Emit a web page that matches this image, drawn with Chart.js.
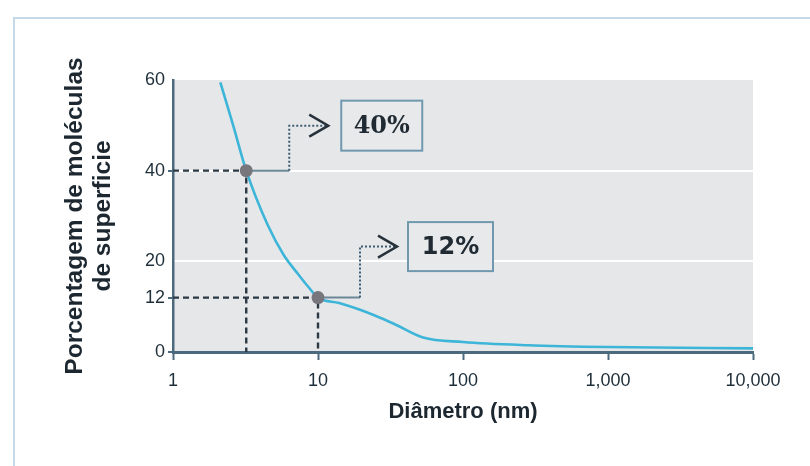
<!DOCTYPE html>
<html>
<head>
<meta charset="utf-8">
<script src="https://cdn.jsdelivr.net/npm/chart.js@4.4.1/dist/chart.umd.min.js"></script>
<style>
  body { margin: 0; background: #fff; }
  #frame { position: absolute; left: 13px; top: 17px; width: 810px; height: 466px;
           border-left: 2px solid #c4d9e9; border-top: 2px solid #c4d9e9; }
  #chart { position: absolute; left: 0; top: 0; }
</style>
</head>
<body>
<div id="frame"></div>
<canvas id="chart" width="810" height="466"></canvas>
<script>
// curve
const diameters = [2.12, 2.6, 3.2, 4.5, 5.8, 7.2, 8.5, 10, 14, 19.5, 33, 53, 100, 280, 1000, 10000];
const surfacePct = [59.5, 50, 40, 28, 21.4, 17.4, 14.5, 12, 10.8, 9.3, 6.3, 3.2, 2.2, 1.5, 1.1, 0.8];

const xTicks = [1, 10, 100, 1000, 10000];
const xTickLabels = ['1', '10', '100', '1,000', '10,000'];
const yTicks = [0, 12, 20, 40, 60];

// marked points
const markX = [3.2, 10];
const markY = [40, 12];
const markLabels = ['40%', '12%'];

const axisColor = '#4c6a7e';
const textColor = '#1f2f3a';
const plotBg = '#e6e7e9';

// callout shapes, pixel offsets from the marked point
const callouts = [
  { elbowDx: 43, riseDy: -45, tipDx: 82, boxDx: 95, boxW: 81, boxH: 50, font: 'bold 24px "DejaVu Serif"' },
  { elbowDx: 42, riseDy: -51, tipDx: 79, boxDx: 90, boxW: 85, boxH: 49, font: 'bold 24px "DejaVu Sans"' }
];

const plotBackground = {
  id: 'plotBackground',
  beforeDraw(chart) {
    const { ctx, chartArea: a } = chart;
    ctx.save();
    ctx.fillStyle = plotBg;
    ctx.fillRect(a.left, a.top, a.right - a.left, a.bottom - a.top);
    ctx.restore();
  }
};

const calloutPlugin = {
  id: 'callouts',
  beforeDatasetsDraw(chart) {
    const { ctx, scales } = chart;
    ctx.save();
    markLabels.forEach((label, i) => {
      const c = callouts[i];
      const px = scales.x.getPixelForValue(markX[i]);
      const py = scales.y.getPixelForValue(markY[i]);
      const ex = px + c.elbowDx;
      const ty = py + c.riseDy;

      ctx.setLineDash([]);
      ctx.strokeStyle = '#6a8798';
      ctx.lineWidth = 2;
      ctx.beginPath();
      ctx.moveTo(px, py);
      ctx.lineTo(ex, py);
      ctx.stroke();

      ctx.setLineDash([2, 2]);
      ctx.strokeStyle = '#3d5c72';
      ctx.beginPath();
      ctx.moveTo(ex, py);
      ctx.lineTo(ex, ty);
      ctx.lineTo(px + c.tipDx - 2, ty);
      ctx.stroke();

      ctx.setLineDash([]);
      ctx.strokeStyle = '#27323b';
      ctx.lineWidth = 2.5;
      ctx.beginPath();
      ctx.moveTo(px + c.tipDx - 19, ty - 11);
      ctx.lineTo(px + c.tipDx, ty);
      ctx.lineTo(px + c.tipDx - 19, ty + 11);
      ctx.stroke();

      const bx = px + c.boxDx;
      const by = ty - c.boxH / 2;
      ctx.fillStyle = '#e8e9eb';
      ctx.fillRect(bx, by, c.boxW, c.boxH);
      ctx.strokeStyle = '#7098ae';
      ctx.lineWidth = 2;
      ctx.strokeRect(bx, by, c.boxW, c.boxH);

      ctx.fillStyle = '#1f2a33';
      ctx.font = c.font;
      ctx.textAlign = 'center';
      ctx.textBaseline = 'middle';
      ctx.fillText(label, bx + c.boxW / 2, ty + 1);
    });
    ctx.restore();
  }
};

const guideSets = markX.map((mx, i) => ({
  data: [{ x: 1, y: markY[i] }, { x: mx, y: markY[i] }, { x: mx, y: 0 }],
  borderColor: '#2b3944',
  borderWidth: 2.4,
  borderDash: [6, 4],
  pointRadius: 0,
  tension: 0
}));

new Chart(document.getElementById('chart'), {
  type: 'line',
  data: {
    datasets: [
      {
        data: markX.map((mx, i) => ({ x: mx, y: markY[i] })),
        showLine: false,
        pointRadius: 6.5,
        pointBackgroundColor: '#77767c',
        pointBorderWidth: 0
      },
      {
        data: diameters.map((d, i) => ({ x: d, y: surfacePct[i] })),
        borderColor: '#3db5d8',
        borderWidth: 2.6,
        pointRadius: 0,
        cubicInterpolationMode: 'monotone'
      },
      ...guideSets
    ]
  },
  options: {
    responsive: false,
    animation: false,
    layout: { padding: { left: 40, right: 57, top: 80, bottom: 30 } },
    plugins: { legend: { display: false }, tooltip: { enabled: false } },
    scales: {
      x: {
        type: 'logarithmic',
        min: 1,
        max: 10000,
        afterBuildTicks: s => { s.ticks = xTicks.map(v => ({ value: v })); },
        afterFit: s => { s.height = 84; },
        ticks: {
          autoSkip: false,
          maxRotation: 0,
          padding: 10,
          color: textColor,
          font: { family: 'Liberation Sans', size: 18 },
          callback: v => xTickLabels[xTicks.indexOf(v)]
        },
        grid: { drawOnChartArea: false, tickLength: 8, tickColor: axisColor, tickWidth: 2 },
        border: { color: axisColor, width: 3 },
        title: {
          display: true,
          text: 'Diâmetro (nm)',
          color: '#1c2730',
          font: { family: 'Liberation Sans', size: 22, weight: 'bold', lineHeight: '24px' },
          padding: { top: 0, bottom: 12 }
        }
      },
      y: {
        min: 0,
        max: 60,
        afterBuildTicks: s => { s.ticks = yTicks.map(v => ({ value: v })); },
        afterFit: s => { s.width = 133; },
        ticks: {
          padding: 3,
          color: textColor,
          font: { family: 'Liberation Sans', size: 18 }
        },
        grid: {
          tickLength: 5,
          lineWidth: 2,
          color: c => (c.tick && (c.tick.value === 20 || c.tick.value === 40)) ? '#ffffff' : 'rgba(0,0,0,0)',
          tickColor: c => (c.tick && [0, 12, 40].includes(c.tick.value)) ? axisColor : 'rgba(0,0,0,0)',
          tickWidth: 2
        },
        border: { color: axisColor, width: 2.5 },
        title: {
          display: true,
          text: ['Porcentagem de moléculas', 'de superficie'],
          color: '#1c2730',
          font: { family: 'Liberation Sans', size: 24.5, weight: 'bold', lineHeight: '28px' },
          padding: { top: 21, bottom: 0 }
        }
      }
    }
  },
  plugins: [plotBackground, calloutPlugin]
});
</script>
</body>
</html>
